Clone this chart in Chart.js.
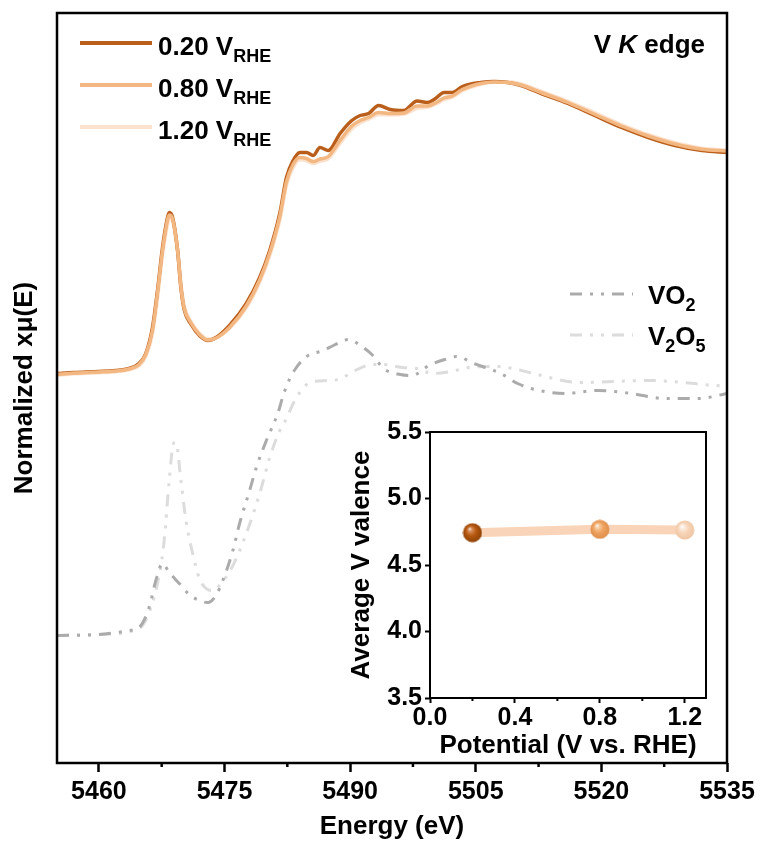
<!DOCTYPE html>
<html>
<head>
<meta charset="utf-8">
<script src="https://cdn.jsdelivr.net/npm/chart.js@4.4.1/dist/chart.umd.min.js"></script>
<style>
html, body { margin: 0; padding: 0; background: #fff; }
#wrap { position: relative; width: 763px; height: 844px; }
#main { position: absolute; left: 0; top: 0; }
#inset { position: absolute; left: 340px; top: 410px; }
</style>
</head>
<body>
<div id="wrap">
<canvas id="main" width="763" height="844" style="width:763px;height:844px"></canvas>
<canvas id="inset" width="385" height="355" style="width:385px;height:355px"></canvas>
</div>
<script>
// ---- data ----
const sampleEnergy = [5455, 5457, 5460, 5462, 5463.6, 5464.8, 5465.6, 5466.4, 5467.0, 5467.6,
  5468.2, 5468.4, 5468.8, 5469.4, 5469.8, 5470.2, 5471.0, 5472.0, 5473.0, 5474.0,
  5475.6, 5477.6, 5479.2, 5480.4, 5481.6, 5482.4, 5483.2, 5484.0, 5484.8, 5485.6,
  5486.4, 5487.4, 5488.8, 5490.2, 5491.2, 5492.2, 5493.4, 5494.8, 5496.4, 5498.0,
  5499.2, 5500.2, 5501.2, 5502.2, 5503.4, 5505.6, 5507.2, 5508.8, 5510.4, 5512.8,
  5516.0, 5519.2, 5522.4, 5525.6, 5528.8, 5532.0, 5535];
const mu020 = [0.008, 0.012, 0.016, 0.02, 0.028, 0.048, 0.088, 0.192, 0.34, 0.512,
  0.632, 0.652, 0.632, 0.5, 0.35, 0.262, 0.205, 0.16, 0.14, 0.152,
  0.2, 0.288, 0.392, 0.5, 0.648, 0.792, 0.86, 0.892, 0.892, 0.88,
  0.912, 0.9, 0.968, 1.02, 1.04, 1.048, 1.08, 1.064, 1.06, 1.098,
  1.092, 1.108, 1.132, 1.132, 1.156, 1.172, 1.176, 1.172, 1.16, 1.128,
  1.088, 1.04, 0.992, 0.952, 0.92, 0.9, 0.892];
const mu080 = [0.004, 0.01, 0.014, 0.018, 0.026, 0.044, 0.084, 0.18, 0.33, 0.5,
  0.622, 0.642, 0.626, 0.5, 0.355, 0.268, 0.21, 0.164, 0.142, 0.15,
  0.192, 0.278, 0.382, 0.49, 0.635, 0.775, 0.845, 0.872, 0.868, 0.856,
  0.866, 0.876, 0.94, 0.998, 1.02, 1.032, 1.052, 1.048, 1.05, 1.078,
  1.078, 1.09, 1.11, 1.118, 1.144, 1.168, 1.174, 1.172, 1.162, 1.132,
  1.092, 1.045, 0.998, 0.958, 0.926, 0.905, 0.898];
const mu120 = [0.002, 0.008, 0.012, 0.016, 0.024, 0.04, 0.078, 0.17, 0.318, 0.488,
  0.61, 0.632, 0.62, 0.5, 0.36, 0.274, 0.214, 0.168, 0.145, 0.152,
  0.19, 0.272, 0.375, 0.482, 0.625, 0.765, 0.835, 0.864, 0.86, 0.848,
  0.858, 0.868, 0.93, 0.988, 1.012, 1.026, 1.044, 1.044, 1.046, 1.07,
  1.074, 1.086, 1.104, 1.114, 1.14, 1.166, 1.174, 1.174, 1.165, 1.136,
  1.096, 1.05, 1.003, 0.962, 0.93, 0.908, 0.9];

const vo2Energy = [5455, 5460, 5463.6, 5464.8, 5466, 5466.8, 5467.6, 5468.4, 5469.6, 5470.8,
  5472, 5473, 5473.9, 5474.8, 5476, 5476.8, 5478, 5478.8, 5480, 5481.4,
  5482, 5482.8, 5483.5, 5484.8, 5486.8, 5488, 5489.8, 5491.4, 5492.6, 5494,
  5496, 5497.4, 5499.4, 5501.3, 5502.7, 5504.8, 5506.8, 5508, 5510, 5511.6,
  5515.6, 5519.6, 5523.6, 5527.6, 5531.6, 5535];
const vo2Mu = [-1.04, -1.036, -1.02, -1.008, -0.928, -0.82, -0.752, -0.788, -0.832, -0.876,
  -0.9, -0.908, -0.884, -0.82, -0.7, -0.592, -0.46, -0.368, -0.26, -0.148,
  -0.08, -0.012, 0.028, 0.076, 0.1, 0.12, 0.144, 0.116, 0.084, 0.028,
  0.004, 0, 0.04, 0.064, 0.076, 0.048, 0.024, 0.008, -0.032, -0.052,
  -0.072, -0.06, -0.072, -0.092, -0.092, -0.072];

const v2o5Energy = [5455, 5460, 5464.8, 5466, 5467.2, 5467.8, 5468.4, 5468.9, 5469.2, 5469.8,
  5470.4, 5471.2, 5472, 5472.8, 5473.6, 5474.4, 5476, 5477.6, 5479.2, 5480.4,
  5481.6, 5482.4, 5483.2, 5483.9, 5485.2, 5487.2, 5488.6, 5490.6, 5492.6, 5494,
  5496.2, 5498, 5499.8, 5502, 5504.2, 5507.6, 5510, 5511.4, 5517.6, 5525.6,
  5533.6, 5535];
const v2o5Mu = [-1.04, -1.036, -1.012, -0.948, -0.8, -0.66, -0.42, -0.272, -0.268, -0.42,
  -0.58, -0.712, -0.812, -0.852, -0.86, -0.84, -0.76, -0.632, -0.472, -0.328,
  -0.22, -0.172, -0.112, -0.072, -0.028, -0.02, -0.016, 0.02, 0.044, 0.044,
  0.032, 0.028, 0.008, 0.016, 0.032, 0.036, 0.024, 0.012, -0.028, -0.02,
  -0.04, -0.044];

const energyTicks = [5460, 5475, 5490, 5505, 5520, 5535];
const energyMinor = [5467.5, 5482.5, 5497.5, 5512.5, 5527.5];

const potentialLabels = ['0.20', '0.80', '1.20'];
const sampleColors = ['#BA5E1C', '#F3B782', '#FBE2CF'];

// inset
const potential = [0.2, 0.8, 1.2];
const valence = [4.743, 4.768, 4.763];
const potentialTicks = [0, 0.4, 0.8, 1.2];
const potentialMinor = [0.2, 0.6, 1.0];
const valenceTicks = [3.5, 4.0, 4.5, 5.0, 5.5];

const FONT = '"Liberation Sans", Arial, Helvetica, sans-serif';
const refDash = [12, 8, 3, 8, 3, 8];

function pts(xs, ys) {
  return xs.map((x, i) => ({ x: x, y: ys[i] }));
}

function setRichFont(ctx, kind) {
  if (kind === 's') ctx.font = 'bold 18px ' + FONT;
  else if (kind === 'i') ctx.font = 'italic bold 26px ' + FONT;
  else ctx.font = 'bold 26px ' + FONT;
}

function drawRich(ctx, x, y, parts) {
  let cx = x;
  parts.forEach(p => {
    setRichFont(ctx, p[1]);
    ctx.fillText(p[0], cx, p[1] === 's' ? y + 7 : y);
    cx += ctx.measureText(p[0]).width;
  });
  return cx - x;
}

function richWidth(ctx, parts) {
  let w = 0;
  parts.forEach(p => {
    setRichFont(ctx, p[1]);
    w += ctx.measureText(p[0]).width;
  });
  return w;
}

// frame + minor ticks
const framePlugin = {
  id: 'framePlugin',
  afterDraw(chart, args, opts) {
    const ctx = chart.ctx;
    const a = chart.chartArea;
    ctx.save();
    ctx.strokeStyle = '#000';
    ctx.lineWidth = opts.width;
    ctx.strokeRect(a.left, a.top, a.right - a.left, a.bottom - a.top);
    const xs = chart.scales.x;
    ctx.lineWidth = opts.tickWidth;
    opts.minor.forEach(v => {
      const px = xs.getPixelForValue(v);
      ctx.beginPath();
      ctx.moveTo(px, a.bottom);
      ctx.lineTo(px, a.bottom + opts.minorLength);
      ctx.stroke();
    });
    ctx.restore();
  }
};

const legendPlugin = {
  id: 'legendPlugin',
  afterDraw(chart) {
    const ctx = chart.ctx;
    ctx.save();
    ctx.fillStyle = '#000';
    ctx.textBaseline = 'alphabetic';
    potentialLabels.forEach((lab, i) => {
      const y = 43 + i * 42;
      ctx.strokeStyle = sampleColors[i];
      ctx.lineWidth = 4;
      ctx.beginPath();
      ctx.moveTo(80, y);
      ctx.lineTo(152, y);
      ctx.stroke();
      drawRich(ctx, 158, y + 12, [[lab + ' V', 'b'], ['RHE', 's']]);
    });

    const edge = [['V ', 'b'], ['K', 'i'], [' edge', 'b']];
    drawRich(ctx, 705 - richWidth(ctx, edge), 53, edge);

    const refs = [
      { y: 294, color: '#ABABAB', parts: [['VO', 'b'], ['2', 's']] },
      { y: 335, color: '#DCDCDC', parts: [['V', 'b'], ['2', 's'], ['O', 'b'], ['5', 's']] }
    ];
    refs.forEach(r => {
      ctx.strokeStyle = r.color;
      ctx.lineWidth = 3;
      ctx.setLineDash(refDash);
      ctx.beginPath();
      ctx.moveTo(570, r.y);
      ctx.lineTo(633, r.y);
      ctx.stroke();
      ctx.setLineDash([]);
      drawRich(ctx, 648, r.y + 10, r.parts);
    });
    ctx.restore();
  }
};

new Chart(document.getElementById('main'), {
  type: 'line',
  data: {
    datasets: [
      { label: '0.80 V', data: pts(sampleEnergy, mu080), borderColor: sampleColors[1], borderWidth: 3.5, order: 0 },
      { label: '0.20 V', data: pts(sampleEnergy, mu020), borderColor: sampleColors[0], borderWidth: 3.5, order: 1 },
      { label: '1.20 V', data: pts(sampleEnergy, mu120), borderColor: sampleColors[2], borderWidth: 4, order: 2 },
      { label: 'VO2', data: pts(vo2Energy, vo2Mu), borderColor: '#ABABAB', borderWidth: 3, borderDash: refDash, order: 3 },
      { label: 'V2O5', data: pts(v2o5Energy, v2o5Mu), borderColor: '#DCDCDC', borderWidth: 3, borderDash: refDash, order: 4 }
    ]
  },
  options: {
    responsive: false,
    animation: false,
    parsing: false,
    layout: { padding: { top: 13, right: 36, bottom: 0, left: 0 } },
    elements: {
      point: { radius: 0 },
      line: { cubicInterpolationMode: 'monotone', borderCapStyle: 'butt', fill: false }
    },
    plugins: {
      legend: { display: false },
      tooltip: { enabled: false },
      framePlugin: { width: 2.5, tickWidth: 2.5, minor: energyMinor, minorLength: 4 }
    },
    scales: {
      x: {
        type: 'linear',
        min: 5455,
        max: 5535,
        afterBuildTicks: s => { s.ticks = energyTicks.map(v => ({ value: v })); },
        afterFit: s => { s.height = 81; },
        border: { display: false },
        grid: { drawOnChartArea: false, drawTicks: true, tickLength: 9, tickWidth: 2.5, tickColor: '#000' },
        ticks: { color: '#000', font: { family: FONT, size: 25, weight: 'bold' }, padding: 5, maxRotation: 0, autoSkip: false,
          callback: v => String(v) },
        title: { display: true, text: 'Energy (eV)', color: '#000', font: { family: FONT, size: 26, weight: 'bold' }, padding: { top: 0, bottom: 2 } }
      },
      y: {
        min: -1.55,
        max: 1.45,
        afterFit: s => { s.width = 57; },
        border: { display: false },
        grid: { display: false },
        ticks: { display: false },
        title: { display: true, text: 'Normalized xμ(E)', color: '#000', font: { family: FONT, size: 26, weight: 'bold' }, padding: { top: 9, bottom: 0 } }
      }
    }
  },
  plugins: [framePlugin, legendPlugin]
});

// sphere markers for inset
function sphere(base, light, dark, r) {
  const c = document.createElement('canvas');
  c.width = c.height = r * 2;
  const g = c.getContext('2d');
  const grad = g.createRadialGradient(r * 0.7, r * 0.6, 0, r, r, r);
  grad.addColorStop(0, '#ffffff');
  grad.addColorStop(0.18, light);
  grad.addColorStop(0.5, base);
  grad.addColorStop(1, dark);
  g.fillStyle = grad;
  g.beginPath();
  g.arc(r, r, r - 0.5, 0, Math.PI * 2);
  g.fill();
  return c;
}
const markers = [
  sphere('#B85A10', '#D99060', '#8A3F05', 10),
  sphere('#F0A562', '#F8D0A8', '#DC8C48', 10),
  sphere('#F8D6BA', '#FDEEE2', '#EEC3A0', 10)
];

new Chart(document.getElementById('inset'), {
  type: 'line',
  data: {
    datasets: [{
      label: 'Average V valence',
      data: pts(potential, valence),
      borderColor: '#F9D4B8',
      borderWidth: 9,
      pointStyle: markers,
      pointRadius: 10,
      tension: 0
    }]
  },
  options: {
    responsive: false,
    animation: false,
    parsing: false,
    layout: { padding: { top: 22, right: 13, bottom: 0, left: 0 } },
    plugins: {
      legend: { display: false },
      tooltip: { enabled: false },
      framePlugin: { width: 2, tickWidth: 2, minor: potentialMinor, minorLength: 3 }
    },
    scales: {
      x: {
        type: 'linear',
        min: 0,
        max: 1.3,
        afterBuildTicks: s => { s.ticks = potentialTicks.map(v => ({ value: v })); },
        afterFit: s => { s.height = 67; },
        border: { display: false },
        grid: { drawOnChartArea: false, drawTicks: true, tickLength: 5, tickWidth: 2, tickColor: '#000' },
        ticks: { color: '#000', font: { family: FONT, size: 25, weight: 'bold' }, padding: 0, maxRotation: 0, autoSkip: false,
          callback: v => v.toFixed(1) },
        title: { display: true, text: 'Potential (V vs. RHE)', color: '#000', font: { family: FONT, size: 26, weight: 'bold' }, padding: { top: 0, bottom: 4 } }
      },
      y: {
        min: 3.5,
        max: 5.5,
        afterBuildTicks: s => { s.ticks = valenceTicks.map(v => ({ value: v })); },
        afterFit: s => { s.width = 90; },
        border: { display: false },
        grid: { drawOnChartArea: false, drawTicks: true, tickLength: 5, tickWidth: 2, tickColor: '#000' },
        ticks: { color: '#000', font: { family: FONT, size: 25, weight: 'bold' }, padding: 3, autoSkip: false,
          callback: v => v.toFixed(1) },
        title: { display: true, text: 'Average V valence', color: '#000', font: { family: FONT, size: 26, weight: 'bold' }, padding: { top: 6, bottom: 0 } }
      }
    }
  },
  plugins: [framePlugin]
});
</script>
</body>
</html>
